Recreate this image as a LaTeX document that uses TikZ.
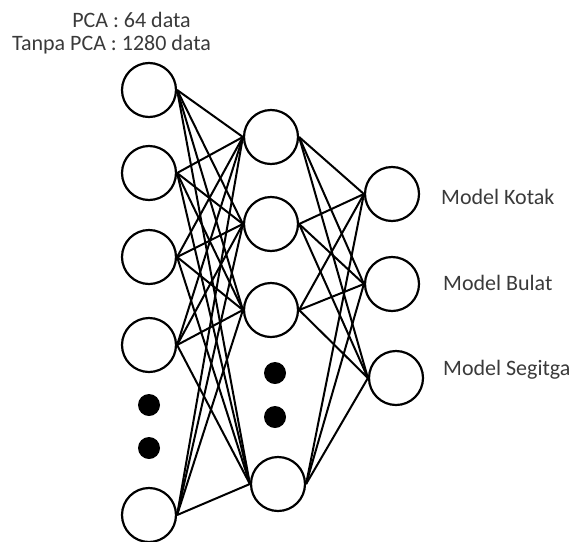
\documentclass[tikz,border=0pt]{standalone}
\usepackage{fontspec}
\setmainfont{Carlito}
\definecolor{labelgray}{HTML}{3A3A3A}
\tikzset{
  neuron/.style={circle,draw=black,line width=2.2pt,minimum size=54pt,inner sep=0pt,fill=white},
  ellip/.style={circle,fill=black,minimum size=22pt,inner sep=0pt},
  weight/.style={line width=2pt},
  caption/.style={text=labelgray,font=\fontsize{22}{26}\selectfont,inner sep=0pt}
}
\begin{document}
\begin{tikzpicture}[x=1pt,y=-1pt]
       \useasboundingbox (0,0) rectangle (577,541);
       % Eingabeschicht
       \foreach \n/\y in {1/90,2/173,3/257,4/345,5/515} {
         \node[neuron] (in\n) at (149,\y) {};
       }
       \node[ellip] (indotA) at (149,405) {};
       \node[ellip] (indotB) at (149,448) {};
       % versteckte Schicht
       \foreach \n/\x/\y in {1/271/137,2/271/224,3/271/310,4/278/484} {
         \node[neuron] (hid\n) at (\x,\y) {};
       }
       \node[ellip] (hiddotA) at (275,373) {};
       \node[ellip] (hiddotB) at (275,417) {};
       % Ausgabeschicht
       \foreach \n/\x/\y in {1/392/194,2/392/284,3/396/378} {
         \node[neuron] (out\n) at (\x,\y) {};
       }
       % Gewichte
       \foreach \i in {1,...,5} {
         \foreach \j in {1,...,4} {
           \draw[weight] (in\i.east) -- (hid\j.west);
         }
       }
       \foreach \j in {1,...,4} {
         \foreach \k in {1,2,3} {
           \draw[weight] (hid\j.east) -- (out\k.west);
         }
       }
       % Beschriftungen
       \node[caption] (pca) at (131.5,20) {PCA : 64 data};
       \node[caption] (nopca) at (111.5,45) {Tanpa PCA : 1280 data};
       \node[caption,anchor=west] (kotak) at (441,197) {Model Kotak};
       \node[caption,anchor=west] (bulat) at (443,283) {Model Bulat};
       \node[caption,anchor=west] (segitga) at (443,370) {Model Segitga};
     \end{tikzpicture}
\end{document}
